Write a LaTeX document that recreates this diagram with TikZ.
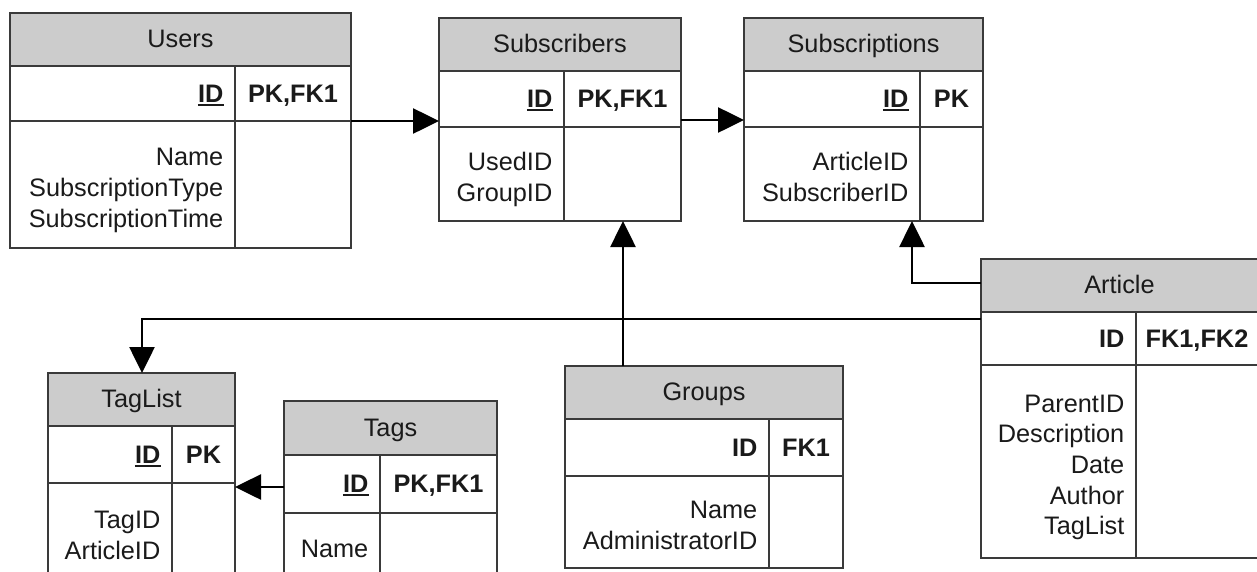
\documentclass[tikz,border=0pt]{standalone}
\usepackage{fontspec}
\setmainfont{Liberation Sans}
\usetikzlibrary{arrows.meta}
\definecolor{hdrgray}{HTML}{CCCCCC}
\definecolor{bordergray}{HTML}{3A3A3A}
\definecolor{txtcol}{HTML}{1A1A1A}
\tikzset{
  cell/.style={draw=bordergray, line width=1.5pt, inner sep=0pt, outer sep=0pt, anchor=north west},
  hdrcell/.style={cell, fill=hdrgray},
  tblbox/.style={inner sep=0pt, outer sep=0pt, anchor=north west},
  tline/.style={draw=bordergray, line width=1.5pt},
  ttext/.style={font=\fontsize{25.3}{30.7}\selectfont, text=txtcol, inner sep=0pt, anchor=base},
  ktext/.style={font=\fontsize{25.3}{30.7}\selectfont\bfseries, text=txtcol, inner sep=0pt},
  atext/.style={font=\fontsize{25.3}{30.7}\selectfont, text=txtcol, inner sep=0pt, anchor=base east},
  uline/.style={draw=txtcol, line width=2pt},
  conn/.style={draw=black, line width=2.6pt, -{Triangle[length=26pt,width=25pt]}},
}
% name, L, T, R, HB, KB, B, D, title
\newcommand\erdtable[9]{%
  \gdef\eL{#2}\gdef\eT{#3}\gdef\eR{#4}\gdef\eHB{#5}\gdef\eKB{#6}\gdef\eB{#7}\gdef\eD{#8}%
  \node[hdrcell, minimum width={(#4-#2)*1pt}, minimum height={(#5-#3)*1pt}] (#1-h) at (#2,#3) {};
  \node[cell, minimum width={(#4-#2)*1pt}, minimum height={(#6-#5)*1pt}] (#1-k) at (#2,#5) {};
  \node[cell, minimum width={(#4-#2)*1pt}, minimum height={(#7-#6)*1pt}] (#1-b) at (#2,#6) {};
  \node[tblbox, minimum width={(#4-#2)*1pt}, minimum height={(#7-#3)*1pt}] (#1) at (#2,#3) {};
  \draw[tline] (#8,#5) -- (#8,#7);
  \node[ttext] (#1-t) at ([yshift=-8.3pt]#1-h.center) {#9};
}
\newcommand\erdkey[3]{%
  \node[ktext, anchor=base east] (#1-kl) at ({\eD-11.5},{(\eHB+\eKB)/2+8.5}) {#2};
  \node[ktext, anchor=base] (#1-kr) at ({(\eD+\eR)/2},{(\eHB+\eKB)/2+8.5}) {#3};
}
\newcommand\erdul[1]{%
  \draw[uline] ([yshift=-2.5pt]#1-kl.base west) -- ([yshift=-2.5pt]#1-kl.base east);
}
\newcommand\erdattrs[3]{%
  \foreach \txt [count=\i] in {#3} {
    \node[atext] (#1-a\i) at ({\eD-11.5},{(\eKB+\eB)/2+12-(#2-1)*15.35+(\i-1)*30.7}) {\txt};
  }
}
\begin{document}
\begin{tikzpicture}[x=1pt,y=-1pt]
  \fill[white] (0,0) rectangle (1257,571);
  \useasboundingbox (0,0) rectangle (1257,571);

  \erdtable{users}{10}{13}{351}{66}{121}{248}{235}{Users}
  \erdkey{users}{ID}{PK,FK1}\erdul{users}
  \erdattrs{users}{3}{Name,SubscriptionType,SubscriptionTime}

  \erdtable{subscribers}{439}{18}{681}{71}{127}{221}{564}{Subscribers}
  \erdkey{subscribers}{ID}{PK,FK1}\erdul{subscribers}
  \erdattrs{subscribers}{2}{UsedID,GroupID}

  \erdtable{subscriptions}{744}{18}{983}{71}{127}{221}{920}{Subscriptions}
  \erdkey{subscriptions}{ID}{PK}\erdul{subscriptions}
  \erdattrs{subscriptions}{2}{ArticleID,SubscriberID}

  \erdtable{article}{981}{259}{1258}{312}{365}{558}{1136}{Article}
  \erdkey{article}{ID}{FK1,FK2}
  \erdattrs{article}{5}{ParentID,Description,Date,Author,TagList}

  \erdtable{groups}{565}{366}{843}{419}{476}{568}{769}{Groups}
  \erdkey{groups}{ID}{FK1}
  \erdattrs{groups}{2}{Name,AdministratorID}

  \erdtable{taglist}{48}{373}{235}{426}{483}{581}{172}{TagList}
  \erdkey{taglist}{ID}{PK}\erdul{taglist}
  \erdattrs{taglist}{2}{TagID,ArticleID}

  \erdtable{tags}{284}{401}{497}{455}{513}{577}{380}{Tags}
  \erdkey{tags}{ID}{PK,FK1}\erdul{tags}
  \erdattrs{tags}{1}{Name}

  % connectors
  \draw[conn] (users.east |- 0,121) -- (subscribers.west |- 0,121);
  \draw[conn] (subscribers.east |- 0,120) -- (subscriptions.west |- 0,120);
  \draw[conn] (groups.north -| 623,0) -- (subscribers.south -| 623,0);
  \draw[conn] (article.west |- 0,283) -| (subscriptions.south -| 912,0);
  \draw[conn] (article.west |- 0,319) -| (taglist.north -| 142,0);
  \draw[conn] (tags.west |- 0,487) -- (taglist.east |- 0,487);
\end{tikzpicture}
\end{document}
